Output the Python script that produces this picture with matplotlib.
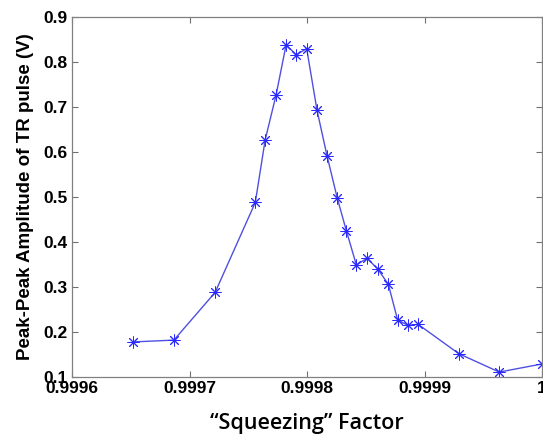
import matplotlib
matplotlib.use("Agg")
import matplotlib.pyplot as plt

# squeezing factor vs. peak-peak amplitude of the TR pulse
squeeze = [0.9996523, 0.9996867, 0.9997218, 0.9997560, 0.9997644, 0.9997737,
           0.9997822, 0.9997909, 0.9997997, 0.9998085, 0.9998170, 0.9998257,
           0.9998336, 0.9998420, 0.9998511, 0.9998602, 0.9998692, 0.9998771,
           0.9998858, 0.9998946, 0.9999291, 0.9999636, 1.0000000]
amplitude = [0.178, 0.182, 0.288, 0.488, 0.627, 0.727,
             0.838, 0.816, 0.830, 0.693, 0.592, 0.498,
             0.424, 0.349, 0.364, 0.340, 0.306, 0.227,
             0.215, 0.217, 0.152, 0.111, 0.129]

xticks = [0.9996, 0.9997, 0.9998, 0.9999, 1.0]
xtick_labels = ["0.9996", "0.9997", "0.9998", "0.9999", "1"]
yticks = [0.1, 0.2, 0.3, 0.4, 0.5, 0.6, 0.7, 0.8, 0.9]

fig = plt.figure(figsize=(5.43, 4.34), dpi=100)
ax = fig.add_axes([0.1326, 0.1313, 0.8656, 0.8295])

# matlab-style asterisk markers
ax.plot(squeeze, amplitude, color="#5050e0", linewidth=1.0,
        marker=(8, 2, 0), markersize=8.5, markeredgewidth=0.7,
        markeredgecolor="#2a2aff")

ax.set_xlim(0.9996, 1.0)
ax.set_ylim(0.1, 0.9)
ax.set_xticks(xticks)
ax.set_xticklabels(xtick_labels)
ax.set_yticks(yticks)
ax.set_yticklabels([f"{v:.1f}" for v in yticks])

ax.tick_params(direction="in", length=4, width=0.8, color="#707070",
               top=True, right=True, labelsize=12.5, pad=3)
for lab in ax.get_xticklabels() + ax.get_yticklabels():
    lab.set_fontfamily("Liberation Sans")
    lab.set_fontweight("bold")
for sp in ax.spines.values():
    sp.set_color("#808080")
    sp.set_linewidth(0.9)

ax.set_ylabel("Peak-Peak Amplitude of TR pulse (V)", fontsize=13.5,
              fontweight="bold", family="Liberation Sans", labelpad=7)
ax.set_xlabel("\u201cSqueezing\u201d Factor", fontsize=15.5,
              family="Open Sans", fontweight="semibold", labelpad=12)

fig.savefig("out.png", dpi=100)
